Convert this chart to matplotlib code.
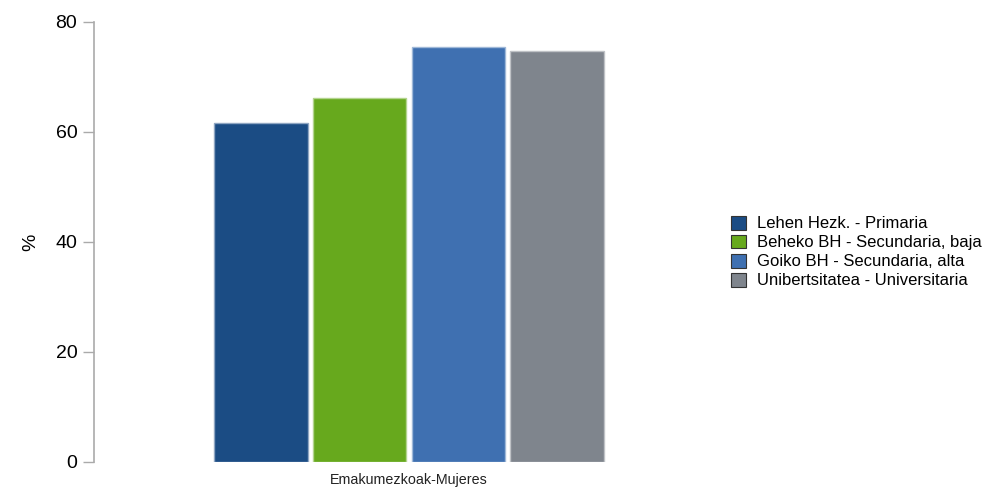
import matplotlib
matplotlib.use("Agg")
import matplotlib.pyplot as plt
from matplotlib.patches import Patch
import numpy as np

plt.rcParams['font.family'] = ['Liberation Sans', 'DejaVu Sans']

categories = ["Emakumezkoak-Mujeres"]
series_names = ["Lehen Hezk. - Primaria", "Beheko BH - Secundaria, baja",
                "Goiko BH - Secundaria, alta", "Unibertsitatea - Universitaria"]
values = [61.6, 66.2, 75.5, 74.7]
colors = ["#1b4c84", "#67a91d", "#3f70b1", "#7f858d"]
edge_colors = ["#8fa6c2", "#b3d48e", "#9fb8d8", "#bfc2c6"]

fig = plt.figure(figsize=(9.82, 4.88), dpi=100)
ax = fig.add_axes([94/982, 1-462/488, (724-94)/982, (462-22)/488])

step = 0.157
width = 0.149
x0 = np.arange(len(categories))
n = len(series_names)
for i, (name, v, c, ec) in enumerate(zip(series_names, values, colors, edge_colors)):
    off = (i - (n-1)/2) * step
    ax.bar(x0 + off, [v], width=width, color=c, edgecolor=ec, linewidth=1.0, label=name)

ax.set_xlim(-0.5, 0.5)
ax.set_ylim(0, 80)
ax.set_yticks([0, 20, 40, 60, 80])
ax.set_xticks(x0)
ax.set_xticklabels(categories, fontsize=10.3, color="#222222")
ax.tick_params(axis='x', length=0, pad=8)
ax.tick_params(axis='y', length=8, width=1, color="#aaaaaa", labelsize=14, pad=4)
for s in ["top", "right", "bottom"]:
    ax.spines[s].set_visible(False)
ax.spines["left"].set_color("#aaaaaa")
ax.spines["left"].set_linewidth(1.2)
ax.set_ylabel("%", fontsize=14, labelpad=12)

handles = [Patch(facecolor=c, edgecolor="#333333", linewidth=0.8) for c in colors]
fig.legend(handles, series_names, loc="center left", bbox_to_anchor=(724/982, 1-252/488),
           frameon=False, fontsize=12, handlelength=0.9, handleheight=0.9,
           handletextpad=0.7, labelspacing=0.2, borderaxespad=0)

fig.savefig("out.png", dpi=100)
